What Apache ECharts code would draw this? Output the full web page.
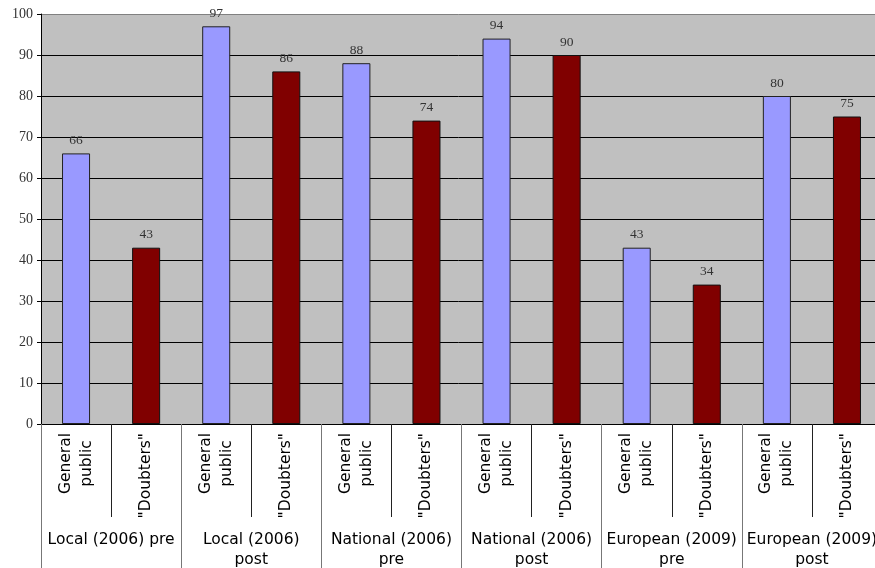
<!DOCTYPE html>
<html>
<head>
<meta charset="utf-8">
<script src="https://cdn.jsdelivr.net/npm/echarts@6/dist/echarts.min.js"></script>
<style>
  html, body { margin: 0; padding: 0; background: #ffffff; }
  #chart { width: 875px; height: 568px; }
</style>
</head>
<body>
<div id="chart"></div>
<script>
// Survey groups (outer axis) and audiences (inner axis)
const groups = [
  'Local (2006) pre',
  'Local (2006)\npost',
  'National (2006)\npre',
  'National (2006)\npost',
  'European (2009)\npre',
  'European (2009)\npost'
];
const audiences = ['General\npublic', '"Doubters"'];

// Percentages per group
const generalPublic = [66, 97, 88, 94, 43, 80];
const doubters = [43, 86, 74, 90, 34, 75];

// Value axis ticks
const yMin = 0;
const yMax = 100;
const yStep = 10;

// One inner category per (group, audience) pair
const innerCats = [];
groups.forEach((g, gi) => audiences.forEach((a, ai) => innerCats.push('c' + gi + '_' + ai)));
const innerLabel = (i) => audiences[i % audiences.length];

const gpData = innerCats.map((_, i) => (i % 2 === 0 ? generalPublic[i / 2] : '-'));
const dbData = innerCats.map((_, i) => (i % 2 === 1 ? doubters[(i - 1) / 2] : '-'));

const serif = '"Liberation Serif", "Times New Roman", serif';
const sans = '"DejaVu Sans", Verdana, sans-serif';

// Gridlines: black, except the top border line which is gray
const gridColors = [];
for (let v = yMin; v <= yMax; v += yStep) gridColors.push(v === yMax ? '#808080' : '#000000');

const valueLabel = {
  show: true,
  position: 'top',
  distance: 6,
  fontFamily: serif,
  fontSize: 13.5,
  color: '#333333'
};

const chart = echarts.init(document.getElementById('chart'), null, { renderer: 'canvas' });
chart.setOption({
  animation: false,
  backgroundColor: '#ffffff',
  grid: {
    left: 41,
    right: -7,
    top: 14,
    bottom: 144,
    containLabel: false,
    outerBoundsMode: 'none',
    show: true,
    backgroundColor: '#c0c0c0',
    borderWidth: 0
  },
  xAxis: [
    {
      type: 'category',
      data: innerCats,
      position: 'bottom',
      axisLine: { show: true, lineStyle: { color: '#000000', width: 1 } },
      axisTick: {
        show: true,
        interval: 0,
        alignWithLabel: false,
        length: 93,
        lineStyle: { color: '#222222', width: 1 }
      },
      axisLabel: {
        interval: 0,
        rotate: 90,
        margin: 9,
        fontFamily: sans,
        fontSize: 15.5,
        lineHeight: 21,
        color: '#000000',
        formatter: (value, index) =>
          innerLabel(index).split('\n').map((s) => '{c|' + s + '}').join('\n'),
        rich: {
          c: { align: 'center', fontFamily: sans, fontSize: 15.5, lineHeight: 21, color: '#000000' }
        }
      },
      splitLine: { show: false }
    },
    {
      type: 'category',
      data: groups,
      position: 'bottom',
      offset: 0,
      axisLine: { show: false },
      axisTick: {
        show: true,
        interval: 0,
        length: 144,
        lineStyle: { color: '#777777', width: 1 }
      },
      axisLabel: {
        interval: 0,
        margin: 106,
        fontFamily: sans,
        fontSize: 15.5,
        lineHeight: 20,
        color: '#000000',
        verticalAlign: 'top'
      },
      splitLine: { show: false }
    }
  ],
  yAxis: {
    type: 'value',
    min: yMin,
    max: yMax,
    interval: yStep,
    axisLine: { show: true, lineStyle: { color: '#000000', width: 1 } },
    axisTick: { show: true, length: 4, lineStyle: { color: '#000000' } },
    axisLabel: {
      margin: 8,
      fontFamily: serif,
      fontSize: 14,
      color: '#333333'
    },
    splitLine: { show: true, lineStyle: { color: gridColors, width: 1 } }
  },
  series: [
    {
      name: 'General public',
      type: 'bar',
      xAxisIndex: 0,
      data: gpData,
      barWidth: '40%',
      barGap: '-100%',
      itemStyle: { color: '#9999ff', borderColor: '#222222', borderWidth: 1 },
      label: valueLabel
    },
    {
      name: 'Doubters',
      type: 'bar',
      xAxisIndex: 0,
      data: dbData,
      barWidth: '40%',
      barGap: '-100%',
      itemStyle: { color: '#800000', borderColor: '#111111', borderWidth: 1 },
      label: valueLabel
    }
  ]
});
</script>
</body>
</html>
